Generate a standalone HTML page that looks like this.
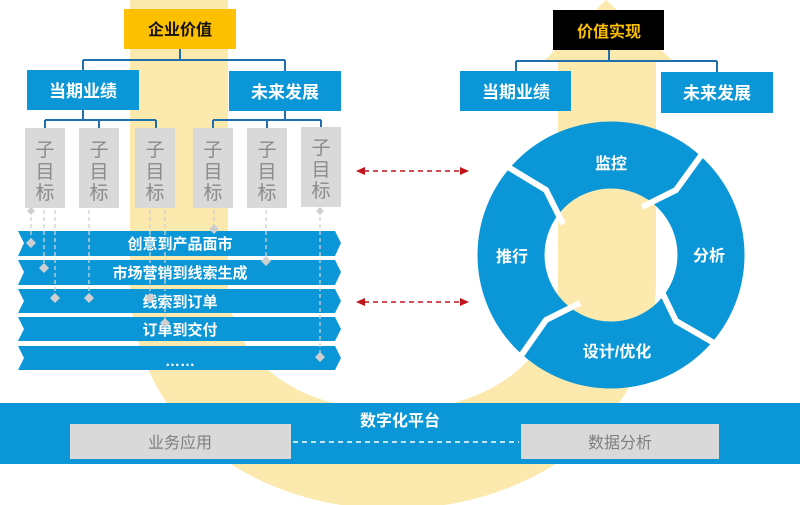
<!DOCTYPE html>
<html><head><meta charset="utf-8"><style>
body{margin:0;width:800px;height:505px;overflow:hidden;background:#fff;font-family:"Liberation Sans","Noto Sans CJK SC",sans-serif;}
</style></head><body>
<svg width="800" height="505" viewBox="0 0 800 505" xmlns="http://www.w3.org/2000/svg" style="position:absolute;left:0;top:0">
<g font-family="Liberation Sans, Noto Sans CJK SC, sans-serif">
<!-- yellow U -->
<path d="M179,0 V280 C179,520 607,520 607,280 V50" fill="none" stroke="#fce9ad" stroke-width="98"/>
<polygon points="545,60 606,0 672,60" fill="#fce9ad"/>

<!-- left tree -->
<g stroke="#1f6fae" stroke-width="2" fill="none">
<path d="M180,49 V60 M83,60 H285 M83,60 V70 M285,60 V71"/>
<path d="M83,110 V120 M45,120 H156 M45,120 V128 M99,120 V128 M156,120 V128"/>
<path d="M285,111 V120 M213,120 H321 M213,120 V128 M267,120 V128 M321,120 V127"/>
<path d="M516,61 H717 M609,50 V61 M516,61 V71 M717,61 V72"/>
</g>
<rect x="124" y="9" width="112" height="40" fill="#fdc000"/>
<text x="180" y="35" text-anchor="middle" font-size="16" font-weight="bold" fill="#111">企业价值</text>
<rect x="27" y="70" width="112" height="40" fill="#0b97d7"/>
<text x="83" y="97" text-anchor="middle" font-size="17" font-weight="bold" fill="#fff">当期业绩</text>
<rect x="229" y="71" width="112" height="40" fill="#0b97d7"/>
<text x="285" y="98" text-anchor="middle" font-size="17" font-weight="bold" fill="#fff">未来发展</text>

<g fill="#d9d9d9">
<rect x="25" y="128" width="40" height="80"/><rect x="79" y="128" width="40" height="80"/>
<rect x="135" y="128" width="40" height="80"/><rect x="193" y="128" width="40" height="80"/>
<rect x="247" y="128" width="40" height="80"/><rect x="301" y="127" width="40" height="80"/>
</g>
<g fill="#8a8a8a" font-size="19" text-anchor="middle">
<text x="45" y="156">子</text><text x="45" y="178">目</text><text x="45" y="199">标</text>
<text x="99" y="156">子</text><text x="99" y="178">目</text><text x="99" y="199">标</text>
<text x="155" y="156">子</text><text x="155" y="178">目</text><text x="155" y="199">标</text>
<text x="213" y="156">子</text><text x="213" y="178">目</text><text x="213" y="199">标</text>
<text x="267" y="156">子</text><text x="267" y="178">目</text><text x="267" y="199">标</text>
<text x="321" y="154">子</text><text x="321" y="176">目</text><text x="321" y="197">标</text>
</g>

<!-- process bars -->
<g fill="#0b97d7">
<polygon points="18,231 335,231 341,243 335,256 18,256 24,243"/>
<polygon points="18,260 335,260 341,272 335,285 18,285 24,272"/>
<polygon points="18,289 335,289 341,301 335,313 18,313 24,301"/>
<polygon points="18,317 335,317 341,329 335,341 18,341 24,329"/>
<polygon points="18,346 335,346 341,358 335,370 18,370 24,358"/>
</g>
<g fill="#fff" font-size="15" font-weight="bold" text-anchor="middle">
<text x="180" y="249">创意到产品面市</text>
<text x="180" y="278">市场营销到线索生成</text>
<text x="180" y="307">线索到订单</text>
<text x="180" y="335">订单到交付</text>
<text x="180" y="366">……</text>
</g>
<!-- dashed drop lines -->
<g stroke="#cfcfcf" stroke-width="1.3" stroke-dasharray="4,3" fill="none">
<path d="M31,210 V243 M44,210 V268 M55,210 V298 M89,210 V298 M150,210 V298 M165,210 V323 M214,210 V229 M266,210 V261 M320,210 V357"/>
</g>
<g fill="#cfcfcf">
<polygon points="31,238 36,243 31,248 26,243"/><polygon points="44,263 49,268 44,273 39,268"/>
<polygon points="55,293 60,298 55,303 50,298"/><polygon points="89,293 94,298 89,303 84,298"/>
<polygon points="150,293 155,298 150,303 145,298"/><polygon points="165,318 170,323 165,328 160,323"/>
<polygon points="214,224 219,229 214,234 209,229"/><polygon points="266,256 271,261 266,266 261,261"/>
<polygon points="320,352 325,357 320,362 315,357"/>
<polygon points="31,207 35,211 31,215 27,211"/><polygon points="320,207 324,211 320,215 316,211"/>
</g>

<!-- red arrows -->
<g stroke="#c0141b" stroke-width="1.6" stroke-dasharray="5,4" fill="none">
<path d="M364,171 H462 M364,302 H462"/>
</g>
<g fill="#c0141b">
<polygon points="356,171 365,167 365,175"/><polygon points="469,171 460,167 460,175"/>
<polygon points="356,302 365,298 365,306"/><polygon points="469,302 460,298 460,306"/>
</g>

<!-- right tree -->
<rect x="553" y="10" width="111" height="40" fill="#000"/>
<text x="609" y="37" text-anchor="middle" font-size="16" font-weight="bold" fill="#fdc000">价值实现</text>
<rect x="460" y="71" width="111" height="40" fill="#0b97d7"/>
<text x="516" y="98" text-anchor="middle" font-size="17" font-weight="bold" fill="#fff">当期业绩</text>
<rect x="661" y="72" width="112" height="41" fill="#0b97d7"/>
<text x="717" y="99" text-anchor="middle" font-size="17" font-weight="bold" fill="#fff">未来发展</text>

<!-- cycle ring -->
<circle cx="611" cy="255" r="100" fill="none" stroke="#0b97d7" stroke-width="67"/>
<g stroke="#fff" stroke-width="6" fill="none" stroke-linejoin="miter">
<polyline points="642,207 676,190 705,150"/>
<polyline points="659,286 676,321 714,343"/>
<polyline points="580,303 546,320 518,360"/>
<polyline points="563,224 546,190 508,167"/>
</g>
<g font-size="16" font-weight="bold" fill="#fff" text-anchor="middle">
<text x="611" y="169">监控</text>
<text x="709" y="261">分析</text>
<text x="617" y="357">设计/优化</text>
<text x="512" y="262">推行</text>
</g>

<!-- platform -->
<rect x="0" y="403" width="800" height="61" fill="#0b97d7"/>
<text x="400" y="426" text-anchor="middle" font-size="16" font-weight="bold" fill="#fff">数字化平台</text>
<rect x="70" y="424" width="221" height="35" fill="#d9d9d9"/>
<text x="180" y="448" text-anchor="middle" font-size="16" fill="#7f7f7f">业务应用</text>
<rect x="521" y="424" width="198" height="35" fill="#d9d9d9"/>
<text x="620" y="448" text-anchor="middle" font-size="16" fill="#7f7f7f">数据分析</text>
<path d="M293,442 H519" stroke="#fff" stroke-width="1.5" stroke-dasharray="5,4"/>
</g>
</svg>
</body></html>
